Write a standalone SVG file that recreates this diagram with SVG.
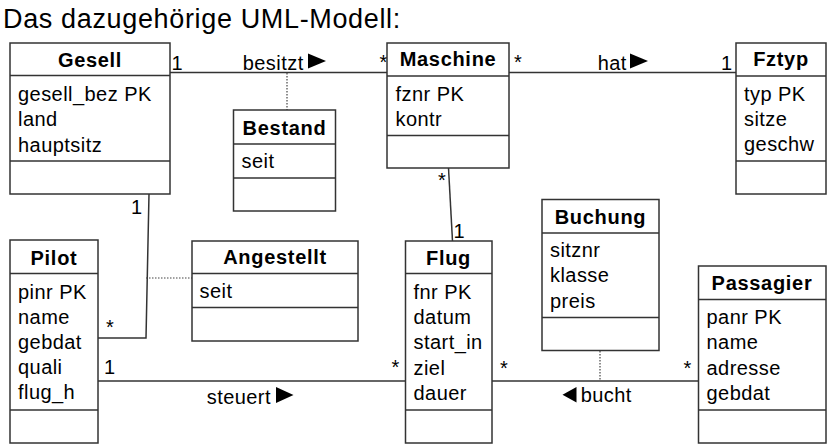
<svg xmlns="http://www.w3.org/2000/svg" width="834" height="448" viewBox="0 0 834 448">
<style>
.box{fill:#fff;stroke:#333;stroke-width:1.5}
.sep{stroke:#333;stroke-width:1.5}
.t{font-family:"Liberation Sans",Arial,sans-serif;font-size:20px;font-weight:bold;text-anchor:middle;letter-spacing:0.7px;fill:#000}
.a{font-family:"Liberation Sans",Arial,sans-serif;font-size:20px;letter-spacing:0.45px;fill:#000}
.m{font-family:"Liberation Sans",Arial,sans-serif;font-size:20px;fill:#000}
.ln{stroke:#333;stroke-width:1.5;fill:none}
.dot{stroke:#444;stroke-width:1.2;stroke-dasharray:1.5 1.5;fill:none}
.tri{fill:#000}
.title{font-family:"Liberation Sans",Arial,sans-serif;font-size:27px;letter-spacing:0.65px;fill:#000}
</style>
<text class="title" x="3" y="28">Das dazugehörige UML-Modell:</text>

<g id="connectors">
  <line class="ln" x1="170" y1="72.5" x2="387" y2="72.5"/>
  <line class="dot" x1="287" y1="73" x2="287" y2="110"/>
  <line class="ln" x1="509" y1="72.5" x2="736" y2="72.5"/>
  <line class="ln" x1="448.5" y1="168" x2="452.5" y2="241"/>
  <polyline class="ln" points="149,194 146,338 98,338"/>
  <line class="dot" x1="146" y1="278" x2="192" y2="278"/>
  <line class="ln" x1="98" y1="381" x2="405" y2="381"/>
  <line class="ln" x1="492" y1="381" x2="698" y2="381"/>
  <line class="dot" x1="600" y1="351" x2="600" y2="381"/>
  <polygon class="tri" points="308,53.5 326,61 308,68.5"/>
  <polygon class="tri" points="630,53.5 648,61 630,68.5"/>
  <polygon class="tri" points="276,387 293.5,395 276,403"/>
  <polygon class="tri" points="576.5,387 562.5,394.7 576.5,402.5"/>
  <text class="a" x="242.7" y="70">besitzt</text>
  <text class="a" x="597.7" y="69.5">hat</text>
  <text class="a" x="206.7" y="404">steuert</text>
  <text class="a" x="580.7" y="402">bucht</text>
  <text class="m" x="171.5" y="70">1</text>
  <text class="m" x="379.5" y="69">*</text>
  <text class="m" x="514" y="69">*</text>
  <text class="m" x="721" y="70">1</text>
  <text class="m" x="131" y="214">1</text>
  <text class="m" x="106" y="334">*</text>
  <text class="m" x="104" y="374">1</text>
  <text class="m" x="391.5" y="374">*</text>
  <text class="m" x="438" y="187">*</text>
  <text class="m" x="453.5" y="238">1</text>
  <text class="m" x="500" y="375">*</text>
  <text class="m" x="683.5" y="375">*</text>
</g>

<g id="Gesell">
  <rect class="box" x="10" y="43" width="160" height="151"/>
  <line class="sep" x1="10" y1="75.5" x2="170" y2="75.5"/>
  <line class="sep" x1="10" y1="161" x2="170" y2="161"/>
  <text class="t" x="90" y="67">Gesell</text>
  <text class="a" x="18" y="101">gesell_bez PK</text>
  <text class="a" x="18" y="126">land</text>
  <text class="a" x="18" y="151.5">hauptsitz</text>
</g>

<g id="Maschine">
  <rect class="box" x="387" y="43" width="122" height="125"/>
  <line class="sep" x1="387" y1="76" x2="509" y2="76"/>
  <line class="sep" x1="387" y1="135.5" x2="509" y2="135.5"/>
  <text class="t" x="448" y="66">Maschine</text>
  <text class="a" x="395.5" y="101">fznr PK</text>
  <text class="a" x="395.5" y="126">kontr</text>
</g>

<g id="Fztyp">
  <rect class="box" x="736" y="43" width="90" height="151"/>
  <line class="sep" x1="736" y1="76" x2="826" y2="76"/>
  <line class="sep" x1="736" y1="161" x2="826" y2="161"/>
  <text class="t" x="781" y="66">Fztyp</text>
  <text class="a" x="744" y="101">typ PK</text>
  <text class="a" x="744" y="126">sitze</text>
  <text class="a" x="744" y="151">geschw</text>
</g>

<g id="Bestand">
  <rect class="box" x="233.5" y="110" width="102" height="101"/>
  <line class="sep" x1="233.5" y1="144" x2="335.5" y2="144"/>
  <line class="sep" x1="233.5" y1="178" x2="335.5" y2="178"/>
  <text class="t" x="284.5" y="135">Bestand</text>
  <text class="a" x="241.5" y="168">seit</text>
</g>

<g id="Pilot">
  <rect class="box" x="10" y="240" width="88" height="203"/>
  <line class="sep" x1="10" y1="273.5" x2="98" y2="273.5"/>
  <line class="sep" x1="10" y1="410" x2="98" y2="410"/>
  <text class="t" x="54" y="265">Pilot</text>
  <text class="a" x="18" y="298.5">pinr PK</text>
  <text class="a" x="18" y="323.5">name</text>
  <text class="a" x="18" y="348.5">gebdat</text>
  <text class="a" x="18" y="373.5">quali</text>
  <text class="a" x="18" y="398.5">flug_h</text>
</g>

<g id="Angestellt">
  <rect class="box" x="192" y="241" width="166" height="100"/>
  <line class="sep" x1="192" y1="273.5" x2="358" y2="273.5"/>
  <line class="sep" x1="192" y1="307.5" x2="358" y2="307.5"/>
  <text class="t" x="275" y="264">Angestellt</text>
  <text class="a" x="199.5" y="297.5">seit</text>
</g>

<g id="Flug">
  <rect class="box" x="405.5" y="241" width="86.5" height="202"/>
  <line class="sep" x1="405.5" y1="273.5" x2="492" y2="273.5"/>
  <line class="sep" x1="405.5" y1="410" x2="492" y2="410"/>
  <text class="t" x="448.5" y="265">Flug</text>
  <text class="a" x="413.5" y="298.5">fnr PK</text>
  <text class="a" x="413.5" y="323.5">datum</text>
  <text class="a" x="413.5" y="349">start_in</text>
  <text class="a" x="413.5" y="374.5">ziel</text>
  <text class="a" x="413.5" y="400">dauer</text>
</g>

<g id="Buchung">
  <rect class="box" x="542" y="199.5" width="117" height="151"/>
  <line class="sep" x1="542" y1="233" x2="659" y2="233"/>
  <line class="sep" x1="542" y1="317.5" x2="659" y2="317.5"/>
  <text class="t" x="600.5" y="224">Buchung</text>
  <text class="a" x="550" y="257">sitznr</text>
  <text class="a" x="550" y="282">klasse</text>
  <text class="a" x="550" y="307.5">preis</text>
</g>

<g id="Passagier">
  <rect class="box" x="698.5" y="266" width="127.5" height="177"/>
  <line class="sep" x1="698.5" y1="299.5" x2="826" y2="299.5"/>
  <line class="sep" x1="698.5" y1="410" x2="826" y2="410"/>
  <text class="t" x="762" y="290">Passagier</text>
  <text class="a" x="706.5" y="323.5">panr PK</text>
  <text class="a" x="706.5" y="349">name</text>
  <text class="a" x="706.5" y="374.5">adresse</text>
  <text class="a" x="706.5" y="400">gebdat</text>
</g>
</svg>
